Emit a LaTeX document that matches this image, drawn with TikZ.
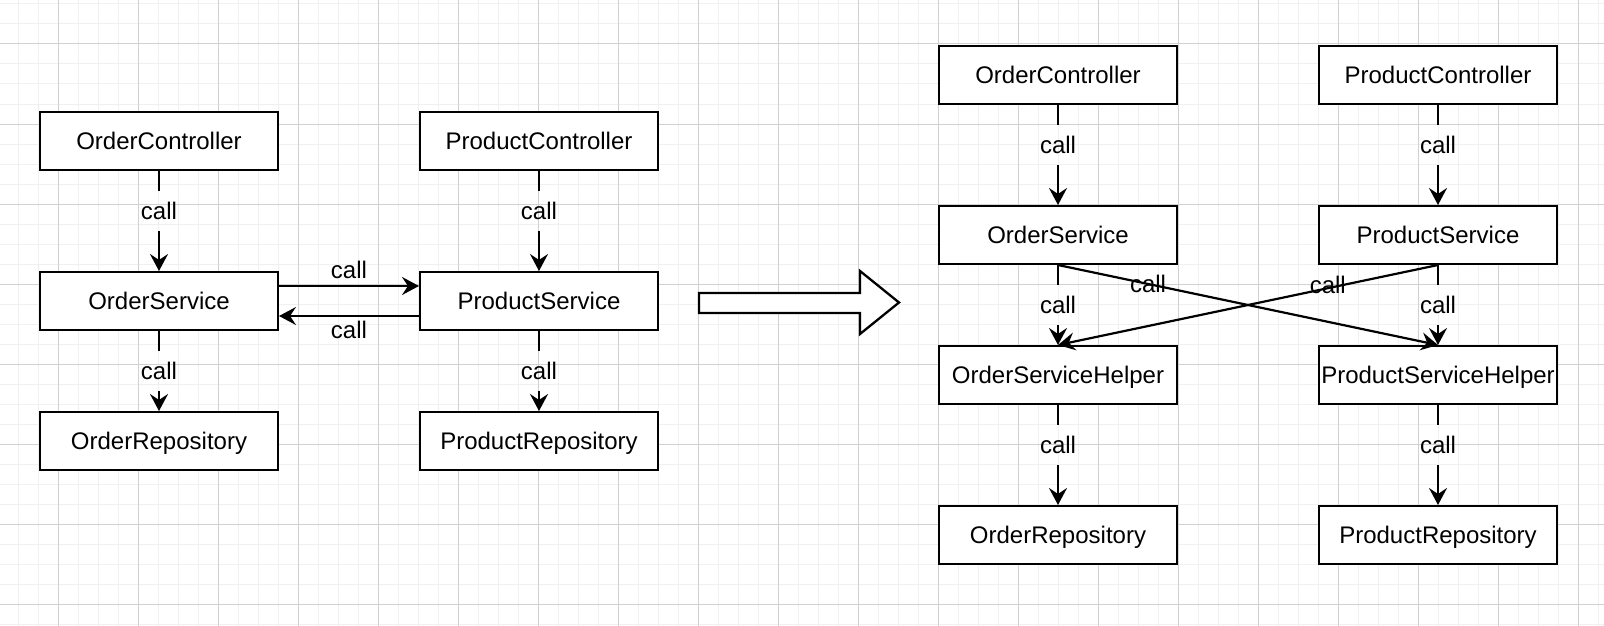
\documentclass[tikz,border=0pt]{standalone}
\usepackage{fontspec}
\setmainfont{Liberation Sans}
\usetikzlibrary{arrows.meta}
\begin{document}
\begin{tikzpicture}[x=1pt,y=-1pt,
 box/.style={draw,fill=white,line width=2.3pt,minimum width=237.7pt,minimum height=57.7pt,inner sep=0pt,text height=17pt,text depth=0pt,font=\fontsize{24}{28}\selectfont},
 lbl/.style={inner sep=0pt,outer sep=0pt,text height=17pt,text depth=0pt,font=\fontsize{24}{28}\selectfont},
 gaplbl/.style={lbl,minimum height=40pt},
 conn/.style={line width=2.2pt},
 arr/.style={conn,-{Stealth[length=17pt,width=18pt,inset=6pt]}},
 minorline/.style={line width=1pt,color=black!6},
 majorline/.style={line width=1pt,color=black!18}]
\useasboundingbox (0,0) rectangle (1604,626);
\fill[white] (0,0) rectangle (1604,626);
\foreach \x in {18,38,...,1598} \draw[minorline] (\x,0) -- (\x,626);
\foreach \y in {4,24,...,624} \draw[minorline] (0,\y) -- (1604,\y);
\foreach \x in {58,138,...,1578} \draw[majorline] (\x,0) -- (\x,626);
\foreach \y in {44,124,...,604} \draw[majorline] (0,\y) -- (1604,\y);

% left diagram
\node[box] (oc) at (159,141) {OrderController};
\node[box] (os) at (159,301) {OrderService};
\node[box] (or) at (159,441) {OrderRepository};
\node[box] (pc) at (539,141) {ProductController};
\node[box] (ps) at (539,301) {ProductService};
\node[box] (pr) at (539,441) {ProductRepository};

\node[gaplbl] (l1) at (159,211) {call};
\node[gaplbl] (l2) at (159,371) {call};
\node[gaplbl] (l3) at (539,211) {call};
\node[gaplbl] (l4) at (539,371) {call};
\draw[conn] (oc) -- (l1); \draw[arr] (l1) -- (os);
\draw[conn] (os) -- (l2); \draw[arr] (l2) -- (or);
\draw[conn] (pc) -- (l3); \draw[arr] (l3) -- (ps);
\draw[conn] (ps) -- (l4); \draw[arr] (l4) -- (pr);

\draw[arr] ([yshift=15pt]os.east) -- node[lbl,yshift=16pt]{call} ([yshift=15pt]ps.west);
\draw[arr] ([yshift=-15pt]ps.west) -- node[lbl,yshift=-14pt]{call} ([yshift=-15pt]os.east);

% big arrow
\draw[line width=2.3pt,fill=white] (699,293) -- (860,293) -- (860,271) -- (899,302.5) -- (860,334) -- (860,313) -- (699,313) -- cycle;

% right diagram
\node[box] (roc) at (1058,75) {OrderController};
\node[box] (ros) at (1058,235) {OrderService};
\node[box] (roh) at (1058,375) {OrderServiceHelper};
\node[box] (ror) at (1058,535) {OrderRepository};
\node[box] (rpc) at (1438,75) {ProductController};
\node[box] (rps) at (1438,235) {ProductService};
\node[box] (rph) at (1438,375) {ProductServiceHelper};
\node[box] (rpr) at (1438,535) {ProductRepository};

\node[gaplbl] (l5) at (1058,145) {call};
\node[gaplbl] (l6) at (1058,305) {call};
\node[gaplbl] (l7) at (1058,445) {call};
\node[gaplbl] (l8) at (1438,145) {call};
\node[gaplbl] (l9) at (1438,305) {call};
\node[gaplbl] (l10) at (1438,445) {call};
\draw[conn] (roc) -- (l5); \draw[arr] (l5) -- (ros);
\draw[conn] (ros) -- (l6); \draw[arr] (l6) -- (roh);
\draw[conn] (roh) -- (l7); \draw[arr] (l7) -- (ror);
\draw[conn] (rpc) -- (l8); \draw[arr] (l8) -- (rps);
\draw[conn] (rps) -- (l9); \draw[arr] (l9) -- (rph);
\draw[conn] (rph) -- (l10); \draw[arr] (l10) -- (rpr);

\draw[arr] (ros.south) -- node[lbl,pos=0.237]{call} (rph.north);
\draw[arr] (rps.south) -- node[lbl,pos=0.29,yshift=3pt]{call} (roh.north);
\end{tikzpicture}
\end{document}
